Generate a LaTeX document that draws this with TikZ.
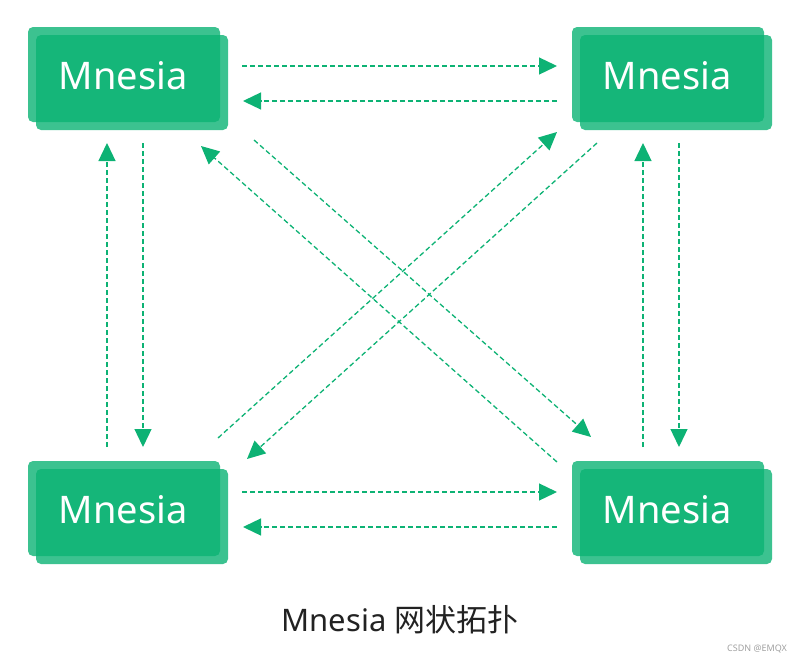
\documentclass[tikz,border=0pt]{standalone}
\usepackage{fontspec}
\setmainfont{Noto Sans}
\newfontfamily\cjk{Noto Sans CJK SC}
\usetikzlibrary{arrows.meta}
\definecolor{mg}{RGB}{11,179,116}
\definecolor{ln}{RGB}{13,178,116}
\tikzset{
  boxpart/.style={fill=mg,fill opacity=0.8,rounded corners=5pt,draw=none},
  lbl/.style={text=white,font=\fontsize{38}{38}\selectfont},
  link/.style={draw=ln,line width=1.3pt,dash pattern=on 5pt off 3pt,-{Triangle[length=18pt,width=17pt]}}
}
\begin{document}
\begin{tikzpicture}[x=1pt,y=-1pt]
\useasboundingbox (0,0) rectangle (804,664);
\foreach \dx/\dy/\n in {0/0/tl,544/0/tr,0/434/bl,544/434/br}{
  \fill[boxpart] (28+\dx,27+\dy) rectangle (220+\dx,122+\dy);
  \fill[boxpart] (36+\dx,35+\dy) rectangle (228+\dx,130+\dy);
  \node[lbl] (\n) at (123+\dx,76+\dy) {Mnesia};
}
\coordinate (a1) at (242,66); \coordinate (a2) at (557,66);
\coordinate (b1) at (557,101); \coordinate (b2) at (243,101);
\coordinate (c1) at (242,492); \coordinate (c2) at (557,492);
\coordinate (d1) at (557,527); \coordinate (d2) at (243,527);
\coordinate (e1) at (107,447); \coordinate (e2) at (107,143);
\coordinate (f1) at (143,143); \coordinate (f2) at (143,447);
\coordinate (g1) at (643,447); \coordinate (g2) at (643,143);
\coordinate (h1) at (679,143); \coordinate (h2) at (679,447);
\coordinate (i1) at (254,140); \coordinate (i2) at (591,437);
\coordinate (j1) at (557,462); \coordinate (j2) at (201,146);
\coordinate (k1) at (218,438); \coordinate (k2) at (557,132);
\coordinate (l1) at (597,143); \coordinate (l2) at (247,459);
\foreach \p in {a,b,c,d,e,f,g,h,i,j,k,l}{\draw[link] (\p1) -- (\p2);}
\node[text={rgb,255:red,34;green,34;blue,34},font=\fontsize{31}{31}\selectfont] (title) at (400,620) {Mnesia {\cjk 网状拓扑}};
\node[text={rgb,255:red,160;green,160;blue,160},font=\fontsize{9}{9}\selectfont] (wm) at (757,649) {CSDN @EMQX};
\end{tikzpicture}
\end{document}
